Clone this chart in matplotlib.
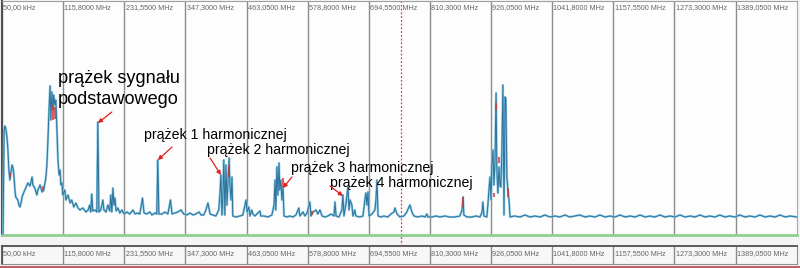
import matplotlib
matplotlib.use("Agg")
import matplotlib.pyplot as plt
from matplotlib.lines import Line2D
from matplotlib import transforms

# ---------------- data ----------------
freq_mhz = [2, 4, 5.5, 7, 9, 11, 13, 15, 17, 19, 21, 22.5, 24.5, 26, 30, 32, 34, 36, 38, 41.5,
            45, 49, 53, 57, 58.5, 62, 66, 68, 72, 76, 79, 83, 85, 87, 89, 91, 92.5, 94.5, 96.5, 98,
            100, 102, 104, 106, 108, 110, 111.5, 113.5, 115, 119, 121, 125, 129, 132, 136, 140, 144, 147.5, 153, 159,
            163, 166, 168, 170, 172, 176, 179.5, 181.5, 183.5, 187, 191, 193, 197, 200.5, 204, 206, 208, 210, 212, 214,
            216, 219.5, 223, 227, 231, 236.5, 242, 248, 252, 257, 261, 266, 269, 274, 280, 284, 289.5, 293, 295, 297,
            303, 308.5, 314, 319, 322, 327, 333, 339, 344, 350, 356, 361.5, 367, 373, 377, 382, 386, 390, 394, 399,
            405, 410.5, 412.5, 414.5, 416.5, 418, 420, 422, 424, 426, 428, 430, 431.5, 433.5, 435.5, 437, 443, 450.5, 456, 460,
            462, 464, 467.5, 469.5, 473, 475, 479, 484.5, 488.5, 490, 496, 503.5, 511, 515, 517, 518.5, 520.5, 522.5, 524.5, 526,
            528, 530, 532, 534, 539.5, 545, 551, 556.5, 562, 564, 570, 573.5, 577.5, 583, 585, 589, 594.5, 598, 602, 606,
            611.5, 617, 623, 628.5, 630.5, 632.5, 638, 643.5, 645.5, 647.5, 651, 655, 657, 659, 662.5, 664.5, 668, 670, 677.5, 683.5,
            687, 689, 691, 693, 695, 700.5, 706, 708, 710, 712, 717.5, 723, 730.5, 736.5, 742, 744, 748, 753.5, 761, 766.5,
            770.5, 772.5, 776, 780, 787.5, 795, 801, 804.5, 806.5, 814, 821.5, 829, 838.5, 848, 857.5, 867, 871, 873, 874.5, 880.5,
            890, 897.5, 905, 909, 910.5, 912.5, 918, 920, 922, 924, 926, 927.5, 929.5, 931.5, 933.5, 935.5, 937, 939, 941, 943,
            944.5, 946.5, 948.5, 950.5, 952.5, 954, 956, 958, 960, 962, 970, 981, 990, 1000, 1009, 1019, 1028, 1037, 1047, 1056,
            1066, 1075, 1085, 1094, 1104, 1113, 1123, 1132, 1142, 1151, 1161, 1170, 1180, 1189, 1199, 1208, 1218, 1227, 1236, 1246,
            1255, 1265, 1274, 1284, 1293, 1303, 1312, 1322, 1331, 1340, 1350, 1359, 1369, 1378, 1388, 1397, 1407, 1416, 1426, 1435,
            1445, 1454, 1464, 1473, 1483, 1492, 1505]
level_dbm = [-116.5, -64.5, -62.5, -63.5, -67, -73.5, -84.5, -89.5, -85.5, -82, -83.5, -87, -94.5, -98, -99.5, -102, -103, -101, -98, -95.5,
             -93.5, -91, -92.5, -88, -92, -93.5, -97, -94.5, -92, -95.5, -94.5, -88.5, -82, -69.5, -54.5, -42.5, -59.5, -45.5, -54.5, -47,
             -52, -49.5, -64.5, -79.5, -87, -84.5, -92, -91, -97, -94.5, -99.5, -97, -101, -99.5, -103, -101, -103.5, -104.5, -103.5, -105.5,
             -104.5, -102, -105.5, -96.5, -105, -104.5, -105.5, -60.5, -105.5, -104.5, -99.5, -104.5, -105.5, -102, -105, -97, -105.5, -93.5, -102, -98.5,
             -105, -103.5, -106, -104.5, -106.5, -105.5, -106.5, -104.5, -106.5, -106, -106.5, -98.5, -106, -106.5, -105.5, -107, -106, -106.5, -79.5, -106.5,
             -106.5, -105.5, -106.5, -99.5, -106.5, -106, -105.5, -104.5, -106.5, -107, -106, -107, -106.5, -105.5, -107, -107, -104.5, -101, -106.5, -107,
             -107.5, -104.5, -97, -87, -107, -99.5, -79.5, -107, -82, -102, -89.5, -78.5, -92, -99.5, -88, -107.5, -108, -107.5, -107, -102,
             -99.5, -105.5, -103, -107.5, -104.5, -106.5, -107.5, -106, -105, -107.5, -107.5, -108, -107, -102, -89.5, -104.5, -83, -97, -81, -94.5,
             -89.5, -99.5, -93, -107.5, -108, -107.5, -108, -107, -103.5, -107.5, -105.5, -107.5, -106, -100.5, -107.5, -105.5, -104.5, -106.5, -104.5, -107.5,
             -108, -107.5, -106.5, -107.5, -100.5, -107.5, -108, -104.5, -97, -107.5, -102, -93, -104.5, -99.5, -102, -107.5, -104.5, -107.5, -108, -107.5,
             -99.5, -96, -102, -95.5, -107.5, -106.5, -104.5, -99.5, -89.5, -107.5, -108, -107.5, -108, -106.5, -105.5, -103.5, -106.5, -108, -107.5, -105.5,
             -103, -102, -105.5, -107.5, -108, -107.5, -108, -106.5, -108, -108, -107.5, -108, -107.5, -108, -108, -107.5, -104.5, -98, -107, -108,
             -108, -107.5, -108, -105.5, -100.5, -107.5, -108, -102, -94.5, -88, -99.5, -82, -74.5, -92, -79.5, -46, -84.5, -96, -83, -92,
             -93, -74.5, -42, -107, -48, -49, -88, -94.5, -99.5, -108, -107.5, -108, -107, -108, -107.5, -108, -107, -108, -107.5, -108,
             -107, -108, -107.5, -107, -108, -107.5, -108, -107, -108, -107.5, -108, -107, -108, -107.5, -108, -107, -108, -107.5, -108, -107,
             -108, -107.5, -108, -107, -108, -107.5, -108, -107, -108, -107.5, -108, -107, -108, -107.5, -108, -107, -108, -107.5, -108, -107,
             -108, -107.5, -108, -107, -108, -107.5, -108]

# red (max-hold) fragments
red_freq = [15, 77, 96, 100, 430, 532, 587, 873, 932, 935, 941, 958]
red_low = [-88, -94.5, -59.5, -59, -88, -93, -107, -103, -98, -54.5, -81, -98]
red_high = [-86, -92.5, -52, -53, -82, -88.5, -105, -98, -96, -51, -78, -93.5]

tick_freq = [0.05, 115.8, 231.55, 347.3, 463.05, 578.8, 694.55, 810.3, 926.05, 1041.8, 1157.55, 1273.3, 1389.05]
tick_labels = ["50,00 kHz", "115,8000 MHz", "231,5500 MHz", "347,3000 MHz", "463,0500 MHz",
               "578,8000 MHz", "694,5500 MHz", "810,3000 MHz", "926,0500 MHz", "1041,8000 MHz",
               "1157,5500 MHz", "1273,3000 MHz", "1389,0500 MHz"]
marker_freq = 755

big_labels = ["prążek sygnału", "podstawowego"]
big_label_pos = [(105.8, -41), (105.8, -51.5)]
small_labels = ["prążek 1 harmonicznej", "prążek 2 harmonicznej",
                "prążek 3 harmonicznej", "prążek 4 harmonicznej"]
small_label_pos = [(268.7, -69), (388, -76.5), (547, -85.5), (621, -93)]
arrow_start = [(208, -55.5), (322, -73), (394, -78.5), (549, -88), (621, -92.5)]
arrow_end = [(181.6, -61), (295, -79.5), (414.5, -87), (532, -93.5), (645.5, -97.5)]

# ---------------- figure ----------------
W, H = 800, 268
fig = plt.figure(figsize=(W / 100, H / 100), dpi=100)
fig.patch.set_facecolor('#f4f4f4')

XMAX = 1505.3
ax = fig.add_axes([2 / W, 33 / H, 795 / W, 234 / H])
ax.set_facecolor('#fdfdfd')
ax.set_xlim(0, XMAX)
ax.set_ylim(-117, 0)
ax.set_yticks([])
ax.set_xticks(tick_freq)
ax.tick_params(axis='x', length=0, labelbottom=False)
ax.grid(axis='x', color='#8c8c8c', lw=1)
ax.set_axisbelow(True)
ax.spines['top'].set_color('#a0a0a0')
ax.spines['left'].set_color('#505050')
ax.spines['left'].set_linewidth(1.5)
ax.spines['right'].set_color('#a8a8a8')
ax.spines['bottom'].set_color('#8fcf8f')
ax.spines['bottom'].set_linewidth(2)

lab_font = ['Liberation Sans', 'DejaVu Sans']
LAB_FS = 5.2
for t, lab in zip(tick_freq, tick_labels):
    ax.annotate(lab, xy=(t, 1), xycoords=('data', 'axes fraction'), xytext=(0.9, -2.2),
                textcoords='offset points', va='top', ha='left', fontsize=LAB_FS,
                color='#666666', family=lab_font)

ax.axvline(marker_freq, color='#d84040', ls=(0, (1.5, 1.5)), lw=0.9, zorder=1)
trans = transforms.blended_transform_factory(ax.transData, fig.transFigure)
fig.add_artist(Line2D([marker_freq, marker_freq], [22 / H, 33 / H], transform=trans,
                      color='#d84040', ls=(0, (1.5, 1.5)), lw=0.9))

# traces
ax.plot(freq_mhz, level_dbm, color='#86c8e4', lw=1.6, zorder=3)
ax.plot(freq_mhz, level_dbm, color='#2f7299', lw=0.7, zorder=4)
ax.vlines(red_freq, red_low, red_high, color='#d03535', lw=1.1, zorder=5)

# annotations
txt_font = ['Liberation Sans', 'DejaVu Sans']
for lab, (x, y) in zip(big_labels, big_label_pos):
    ax.text(x, y, lab, fontsize=13.1, family=txt_font, ha='left', va='baseline', color='black', zorder=6)
for lab, (x, y) in zip(small_labels, small_label_pos):
    ax.text(x, y, lab, fontsize=10.2, family=txt_font, ha='left', va='baseline', color='black', zorder=6)
for s, e in zip(arrow_start, arrow_end):
    ax.annotate('', xy=e, xytext=s,
                arrowprops=dict(arrowstyle='-|>', color='#e02020', lw=0.9,
                                mutation_scale=6, shrinkA=0, shrinkB=0), zorder=6)

# bottom label strip
ax2 = fig.add_axes([2 / W, 4 / H, 795 / W, 18 / H])
ax2.set_facecolor('#f7f7f7')
ax2.set_xlim(0, XMAX)
ax2.set_ylim(0, 1)
ax2.set_yticks([])
ax2.set_xticks(tick_freq)
ax2.tick_params(axis='x', length=0, labelbottom=False)
ax2.grid(axis='x', color='#8c8c8c', lw=1)
for sp in ['top', 'left']:
    ax2.spines[sp].set_color('#505050')
    ax2.spines[sp].set_linewidth(1.3)
for sp in ['bottom', 'right']:
    ax2.spines[sp].set_color('#909090')
for t, lab in zip(tick_freq, tick_labels):
    ax2.annotate(lab, xy=(t, 0.6), xycoords='data', xytext=(0.9, 0),
                 textcoords='offset points', va='center', ha='left', fontsize=LAB_FS,
                 color='#666666', family=lab_font)

fig.add_artist(Line2D([0, 1], [1.2 / H, 1.2 / H], transform=fig.transFigure,
                      color='#b84444', lw=1.2))

fig.savefig('out.png', dpi=100, facecolor=fig.get_facecolor())
